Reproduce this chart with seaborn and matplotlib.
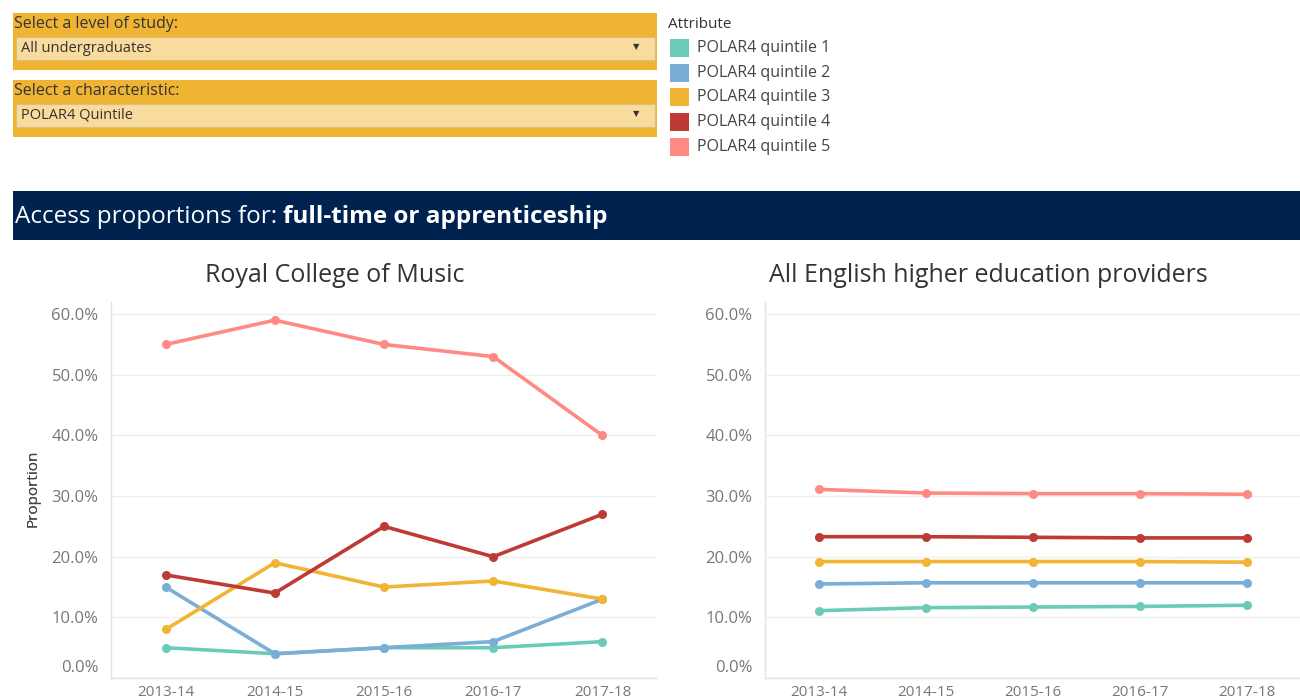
import pandas as pd
import matplotlib.pyplot as plt
import seaborn as sns
from matplotlib.patches import Rectangle
from matplotlib.ticker import PercentFormatter
from matplotlib.transforms import ScaledTranslation

# Dados (proporções em %)
anos = ["2013-14", "2014-15", "2015-16", "2016-17", "2017-18"]
quintis = ["POLAR4 quintile 1", "POLAR4 quintile 2", "POLAR4 quintile 3",
           "POLAR4 quintile 4", "POLAR4 quintile 5"]
cores = ["#6CCBB7", "#7AAED6", "#F1B434", "#BE3A34", "#FF8983"]

# Royal College of Music
rcm_q1 = [5.0, 4.0, 5.0, 5.0, 6.0]
rcm_q2 = [15.0, 4.0, 5.0, 6.0, 13.0]
rcm_q3 = [8.0, 19.0, 15.0, 16.0, 13.0]
rcm_q4 = [17.0, 14.0, 25.0, 20.0, 27.0]
rcm_q5 = [55.0, 59.0, 55.0, 53.0, 40.0]

# All English higher education providers
eng_q1 = [11.1, 11.6, 11.7, 11.8, 12.0]
eng_q2 = [15.5, 15.7, 15.7, 15.7, 15.7]
eng_q3 = [19.2, 19.2, 19.2, 19.2, 19.1]
eng_q4 = [23.3, 23.3, 23.2, 23.1, 23.1]
eng_q5 = [31.1, 30.5, 30.4, 30.4, 30.3]

titulos = ["Royal College of Music", "All English higher education providers"]


def monta_df(series):
    linhas = []
    for q, vals in zip(quintis, series):
        for a, v in zip(anos, vals):
            linhas.append({"Ano": a, "Proporcao": v, "Atributo": q})
    return pd.DataFrame(linhas)


df_rcm = monta_df([rcm_q1, rcm_q2, rcm_q3, rcm_q4, rcm_q5])
df_eng = monta_df([eng_q1, eng_q2, eng_q3, eng_q4, eng_q5])

sns.set_style("white")
plt.rcParams["font.family"] = ["Open Sans", "DejaVu Sans"]

W, H = 1300, 699
fig = plt.figure(figsize=(W / 100, H / 100), dpi=100)


def px(x0, y0, x1, y1):
    return [x0 / W, 1 - y1 / H, (x1 - x0) / W, (y1 - y0) / H]


def caixa(x0, y0, x1, y1, **kw):
    fig.patches.append(Rectangle((x0 / W, 1 - y1 / H), (x1 - x0) / W, (y1 - y0) / H,
                                 transform=fig.transFigure, **kw))


def texto(x, y, s, **kw):
    return fig.text(x / W, 1 - y / H, s, **kw)


# Filtros (dropdowns)
for (y0, rotulo, valor) in [(13, "Select a level of study:", "All undergraduates"),
                            (80, "Select a characteristic:", "POLAR4 Quintile")]:
    caixa(13, y0, 657, y0 + 57, facecolor="#F0B433", edgecolor="none")
    texto(14, y0 + 11, rotulo, fontsize=11.5, color="#333333", va="center")
    caixa(16, y0 + 24, 655, y0 + 47, facecolor="#F8DB9D", edgecolor="#D9BE82", lw=0.8)
    texto(21, y0 + 35, valor, fontsize=10.5, color="#333333", va="center")
    texto(636, y0 + 34, "▼", fontsize=6, color="#333333", va="center", ha="center",
          family=["DejaVu Sans"])

# Legenda
texto(668, 24, "Attribute", fontsize=11, color="#333333", va="center")
for i, (q, c) in enumerate(zip(quintis, cores)):
    yc = 48 + i * 24.7
    caixa(670, yc - 9, 689, yc + 9, facecolor=c, edgecolor="none")
    texto(697, yc, q, fontsize=11.5, color="#444444", va="center")

# Faixa de título
caixa(13, 191, 1300, 240, facecolor="#00224F", edgecolor="none")
t1 = texto(15, 217, "Access proportions for: ", fontsize=17.5, color="white", va="center")
fig.canvas.draw()
bb = t1.get_window_extent()
fig.text(bb.x1 / W, 1 - 217 / H, "full-time or apprenticeship", fontsize=17.5,
         color="white", va="center", fontweight="bold")

# Gráficos de linha
paleta = dict(zip(quintis, cores))
eixos = [(111, 657, 335, df_rcm), (765, 1300, 988, df_eng)]
for (x0, x1, xt, df), titulo in zip(eixos, titulos):
    ax = fig.add_axes(px(x0, 302, x1, 678))
    sns.lineplot(data=df, x="Ano", y="Proporcao", hue="Atributo", palette=paleta,
                 marker="o", markersize=6.5, markeredgewidth=0, linewidth=2.6,
                 sort=False, legend=False, ax=ax)
    ax.set_xlim(-0.5, 4.5)
    ax.set_ylim(0, 62)
    ax.set_yticks([0, 10, 20, 30, 40, 50, 60])
    ax.yaxis.set_major_formatter(PercentFormatter(decimals=1))
    ax.set_xticks(range(len(anos)))
    ax.set_xticklabels(anos)
    ax.set_xticks([0.5, 1.5, 2.5, 3.5], minor=True)
    ax.tick_params(axis="both", which="major", length=0, labelcolor="#777777")
    ax.tick_params(axis="y", pad=9, labelsize=12)
    ax.tick_params(axis="x", pad=5, labelsize=11)
    ax.tick_params(axis="x", which="minor", length=5, color="#dddddd", width=1)
    ax.yaxis.grid(True, color="#efefef", lw=1)
    ax.xaxis.grid(False)
    for lado in ["top", "right"]:
        ax.spines[lado].set_visible(False)
    for lado in ["left", "bottom"]:
        ax.spines[lado].set_color("#e3e3e3")
        ax.spines[lado].set_linewidth(1)
    ax.set_xlabel("")
    ax.set_ylabel("Proportion", fontsize=11, color="#444444")
    ax.yaxis.set_label_coords((41 - x0) / (x1 - x0), 0.505)
    # rótulo 0.0% deslocado para cima, como no Tableau
    lab0 = ax.yaxis.get_major_ticks()[0].label1
    lab0.set_transform(lab0.get_transform() + ScaledTranslation(0, 12 / 100, fig.dpi_scale_trans))
    texto(xt, 276, titulo, fontsize=18, color="#333333", ha="center", va="center")

fig.savefig("out.png", dpi=100)
